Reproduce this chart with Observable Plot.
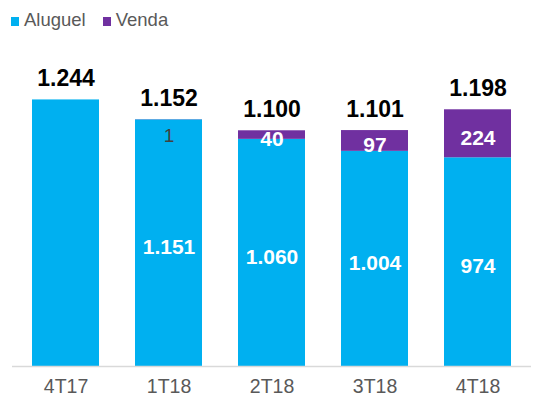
<!DOCTYPE html>
<html>
<head>
<meta charset="utf-8">
<script src="https://cdn.jsdelivr.net/npm/d3@7"></script>
<script src="https://cdn.jsdelivr.net/npm/@observablehq/plot@0.6"></script>
<style>
  html, body { margin: 0; padding: 0; background: #fff; }
  body { width: 538px; height: 400px; overflow: hidden; font-family: "Liberation Sans", Arial, sans-serif; }
  #legend { height: 30px; display: flex; align-items: center; padding-left: 11px; padding-top: 9px; box-sizing: border-box; font-size: 18.5px; color: #595959; }
  .item { display: flex; align-items: center; margin-right: 17px; }
  .sw { width: 8px; height: 9px; margin-right: 5px; margin-top: 3px; }
</style>
</head>
<body>
<div id="legend"></div>
<div id="chart"></div>
<script>
const quarters = ["4T17", "1T18", "2T18", "3T18", "4T18"];
const series = ["Aluguel", "Venda"];
const aluguel = [1244, 1151, 1060, 1004, 974];
const venda = [0, 1, 40, 97, 224];
const totals = [1244, 1152, 1100, 1101, 1198];
const colors = ["#00B0F0", "#7030A0"];

const ptBR = d3.formatLocale({decimal: ",", thousands: ".", grouping: [3], currency: ["R$", ""]});
const fmt = ptBR.format(",d");

const rows = [
  ...quarters.map((q, i) => ({quarter: q, serie: "Aluguel", value: aluguel[i], showInner: i > 0})),
  ...quarters.map((q, i) => ({quarter: q, serie: "Venda", value: venda[i], showInner: venda[i] >= 10}))
];
const totalRows = quarters.map((q, i) => ({quarter: q, total: totals[i]}));

const legend = document.getElementById("legend");
series.forEach((s, i) => {
  const it = document.createElement("div");
  it.className = "item";
  it.innerHTML = `<span class="sw" style="background:${colors[i]}"></span><span>${s}</span>`;
  legend.appendChild(it);
});

const chart = Plot.plot({
  width: 538,
  height: 370,
  marginLeft: 12,
  marginRight: 7,
  marginTop: 36,
  marginBottom: 34,
  style: {fontFamily: "'Liberation Sans', Arial, sans-serif", background: "#fff"},
  x: {domain: quarters, paddingInner: 0.35, paddingOuter: 0.175, label: null},
  y: {domain: [0, 1400], axis: null},
  color: {domain: series, range: colors},
  marks: [
    Plot.barY(rows, {x: "quarter", y: "value", fill: "serie"}),
    Plot.ruleY([0], {stroke: "#d9d9d9", strokeWidth: 1.5}),
    Plot.axisX({tickSize: 0, tickPadding: 13, fontSize: 19.5, color: "#595959", label: null}),
    Plot.text(rows, Plot.stackY({
      x: "quarter", y: "value", z: "serie",
      text: d => d.showInner ? fmt(d.value) : "",
      fill: "white", fontWeight: "bold", fontSize: 21, dy: 4
    })),
    Plot.text(rows, Plot.stackY({
      x: "quarter", y: "value", z: "serie",
      text: d => (d.serie === "Venda" && d.value > 0 && d.value < 10) ? fmt(d.value) : "",
      fill: "#404040", fontSize: 19, dy: 16
    })),
    Plot.text(totalRows, {
      x: "quarter", y: "total", text: d => fmt(d.total),
      fill: "#000", fontWeight: "bold", fontSize: 23, dy: -21
    })
  ]
});
document.getElementById("chart").appendChild(chart);
</script>
</body>
</html>
